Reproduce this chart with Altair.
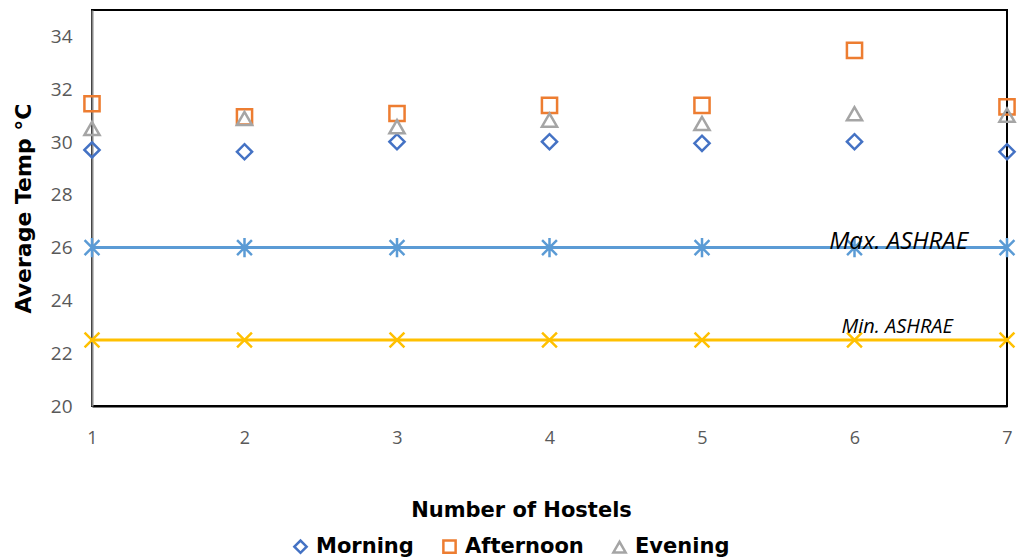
import altair as alt
import pandas as pd

hostels = [1, 2, 3, 4, 5, 6, 7]
morning = [29.70, 29.63, 30.01, 30.01, 29.95, 30.01, 29.63]
afternoon = [31.45, 30.95, 31.08, 31.39, 31.39, 33.47, 31.33]
evening = [30.51, 30.89, 30.58, 30.83, 30.70, 31.07, 31.02]
max_ashrae = [26, 26, 26, 26, 26, 26, 26]
min_ashrae = [22.5, 22.5, 22.5, 22.5, 22.5, 22.5, 22.5]

series_names = ["Morning", "Afternoon", "Evening"]
series_colors = ["#4472C4", "#ED7D31", "#A5A5A5"]
series_shapes = ["diamond", "square", "triangle-up"]

ann_text = ["Max. ASHRAE", "Min. ASHRAE"]
ann_x = [6.29, 6.28]
ann_y = [26.2, 23.0]
ann_size = [24, 20]

rows = []
for name, vals in zip(series_names, [morning, afternoon, evening]):
    for h, v in zip(hostels, vals):
        rows.append({"hostel": h, "temp": v, "series": name})
pts = pd.DataFrame(rows)

lim = pd.DataFrame({"hostel": hostels, "max": max_ashrae, "min": min_ashrae})
ann = pd.DataFrame({"text": ann_text, "x": ann_x, "y": ann_y, "size": ann_size})

xscale = alt.Scale(domain=[1, 7], nice=False, zero=False)
yscale = alt.Scale(domain=[20, 35], nice=False, zero=False)

FONT_T = "DejaVu Sans"
FONT_L = "Open Sans"

x_enc = alt.X("hostel:Q", scale=xscale,
              axis=alt.Axis(title="Number of Hostels", values=hostels, format="d",
                            grid=False, ticks=False, domainColor="#000000", domainWidth=2,
                            labelColor="#595959", labelFontSize=18, labelFont=FONT_L,
                            labelPadding=23, labelFlush=False,
                            titleFont=FONT_T, titleFontSize=21,
                            titleFontWeight="bold", titleColor="#000000", titlePadding=52,
                            titleX=429, titleAlign="center"))

max_line = alt.Chart(lim).mark_line(color="#5B9BD5", strokeWidth=3).encode(
    x=x_enc,
    y=alt.Y("max:Q", scale=yscale,
            axis=alt.Axis(title="Average Temp °C", values=[20, 22, 24, 26, 28, 30, 32, 34],
                          grid=False, ticks=False, domainColor="#888888", domainWidth=2,
                          labelColor="#595959", labelFontSize=19, labelFont=FONT_L,
                          labelPadding=20, titleFont=FONT_T, titleFontSize=22,
                          titleFontWeight="bold", titleColor="#000000", titlePadding=15)),
)
max_pts = alt.Chart(lim).mark_point(
    shape="M-1,-1L1,1M-1,1L1,-1M0,-1.3L0,1.3", color="#5B9BD5", strokeWidth=2.5,
    size=220, filled=False, opacity=1).encode(x="hostel:Q", y="max:Q")

min_line = alt.Chart(lim).mark_line(color="#FFC000", strokeWidth=3).encode(
    x="hostel:Q", y="min:Q")
min_pts = alt.Chart(lim).mark_point(
    shape="M-1,-1L1,1M-1,1L1,-1", color="#FFC000", strokeWidth=2.5,
    size=220, filled=False, opacity=1).encode(x="hostel:Q", y="min:Q")

series_pts = alt.Chart(pts).mark_point(filled=False, strokeWidth=2.5, size=230, opacity=1).encode(
    x="hostel:Q",
    y="temp:Q",
    color=alt.Color("series:N", scale=alt.Scale(domain=series_names, range=series_colors),
                    legend=alt.Legend(title=None, orient="none", direction="horizontal",
                                      legendX=198, legendY=526, columns=3, columnPadding=24,
                                      labelFont=FONT_T, labelFontSize=21, labelFontWeight="bold",
                                      labelColor="#000000", symbolSize=150, symbolStrokeWidth=2.5,
                                      labelOffset=5)),
    shape=alt.Shape("series:N", scale=alt.Scale(domain=series_names, range=series_shapes)),
)

ann_layer = alt.Chart(ann).mark_text(font=FONT_L, fontStyle="italic", color="#000000").encode(
    x="x:Q", y="y:Q", text="text:N",
    size=alt.Size("size:Q", scale=None, legend=None))

chart = alt.layer(max_line, max_pts, min_line, min_pts, series_pts, ann_layer).properties(
    width=915, height=396,
    background="#ffffff",
    autosize=alt.AutoSizeParams(type="none"),
    padding={"left": 92, "top": 10, "right": 16, "bottom": 153},
).configure_view(stroke="#000000", strokeWidth=2)

chart.save("out.html", embed_options={"renderer": "svg", "actions": False})
